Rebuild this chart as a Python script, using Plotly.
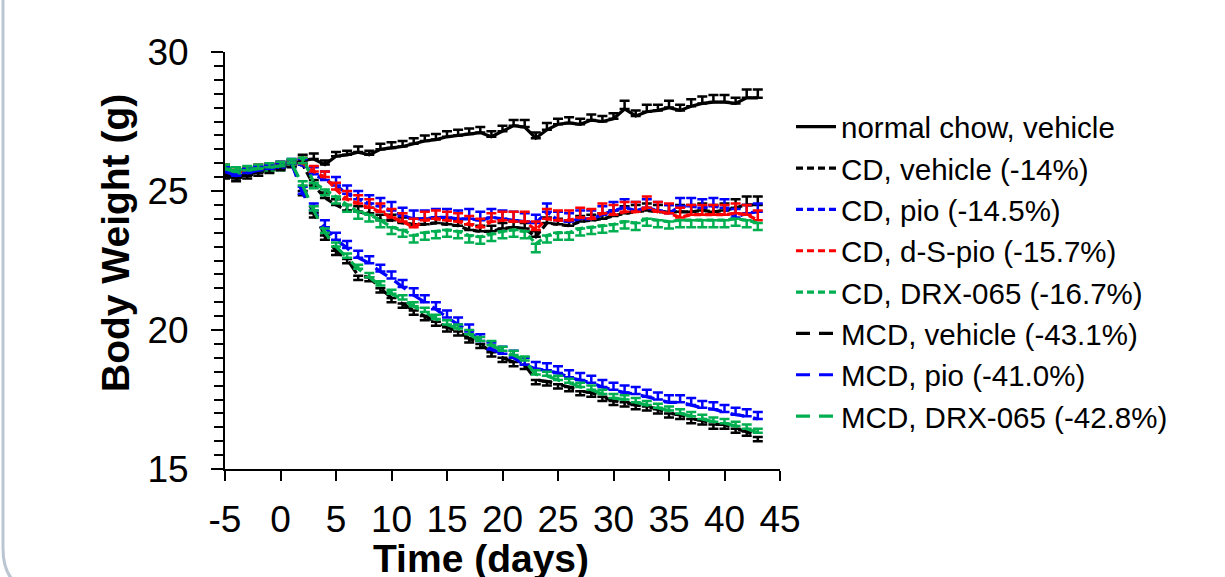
import plotly.graph_objects as go

days = list(range(-5, 44))
x_ticks = [-5, 0, 5, 10, 15, 20, 25, 30, 35, 40, 45]
x_tick_labels = ["-5", "0", "5", "10", "15", "20", "25", "30", "35", "40", "45"]

nc = [25.7, 25.5, 25.6, 25.7, 25.8, 25.85, 25.95, 26.1, 26.15, 25.95,
      26.25, 26.3, 26.4, 26.3, 26.5, 26.55, 26.6, 26.7, 26.8, 26.85,
      26.95, 27.0, 27.05, 27.1, 26.95, 27.15, 27.35, 27.3, 26.9, 27.2,
      27.4, 27.45, 27.4, 27.55, 27.5, 27.6, 27.95, 27.7, 27.85, 27.9,
      28.0, 27.9, 28.05, 28.15, 28.2, 28.2, 28.15, 28.35, 28.35]
nc_err = [0.15, 0.15, 0.15, 0.15, 0.15, 0.15, 0.15, 0.2, 0.2, 0.15,
          0.15, 0.15, 0.2, 0.15, 0.2, 0.2, 0.2, 0.2, 0.2, 0.2,
          0.2, 0.2, 0.2, 0.2, 0.2, 0.2, 0.2, 0.25, 0.2, 0.25,
          0.2, 0.2, 0.2, 0.2, 0.2, 0.2, 0.3, 0.2, 0.25, 0.2,
          0.25, 0.2, 0.25, 0.25, 0.25, 0.25, 0.2, 0.3, 0.3]

cd_veh = [25.55, 25.45, 25.55, 25.65, 25.75, 25.8, 25.9, 25.95, 25.2, 24.75,
          24.5, 24.3, 24.25, 24.2, 23.95, 23.95, 23.85, 23.8, 23.8, 23.85,
          23.8, 23.75, 23.6, 23.55, 23.55, 23.65, 23.7, 23.65, 23.35, 23.85,
          23.8, 23.75, 23.9, 23.95, 24.0, 24.1, 24.2, 24.25, 24.3, 24.25,
          24.25, 24.25, 24.25, 24.3, 24.25, 24.3, 24.4, 24.5, 24.5]
cd_veh_err = [0.15, 0.15, 0.15, 0.15, 0.15, 0.15, 0.15, 0.2, 0.2, 0.2,
              0.2, 0.2, 0.2, 0.2, 0.2, 0.2, 0.2, 0.2, 0.2, 0.2,
              0.2, 0.2, 0.2, 0.2, 0.2, 0.2, 0.2, 0.2, 0.2, 0.2,
              0.2, 0.2, 0.2, 0.2, 0.2, 0.2, 0.25, 0.25, 0.25, 0.25,
              0.25, 0.25, 0.25, 0.25, 0.25, 0.25, 0.3, 0.3, 0.3]

cd_pio = [25.75, 25.55, 25.65, 25.75, 25.8, 25.85, 25.9, 25.95, 25.6, 25.4,
          25.2, 24.9, 24.7, 24.55, 24.45, 24.3, 24.1, 24.0, 24.0, 24.05,
          24.05, 24.0, 24.0, 23.95, 24.05, 24.0, 23.95, 23.9, 23.85, 24.25,
          23.95, 23.9, 24.0, 24.0, 24.15, 24.3, 24.4, 24.3, 24.4, 24.3,
          24.2, 24.45, 24.45, 24.4, 24.45, 24.4, 24.05, 24.2, 24.25]
cd_pio_err = [0.15, 0.15, 0.15, 0.15, 0.15, 0.15, 0.15, 0.2, 0.25, 0.3,
              0.3, 0.3, 0.3, 0.3, 0.3, 0.3, 0.3, 0.3, 0.3, 0.3,
              0.3, 0.3, 0.35, 0.3, 0.3, 0.3, 0.3, 0.3, 0.3, 0.3,
              0.3, 0.3, 0.3, 0.3, 0.3, 0.3, 0.3, 0.3, 0.3, 0.3,
              0.3, 0.3, 0.3, 0.3, 0.3, 0.3, 0.3, 0.3, 0.3]

cd_dspio = [25.8, 25.7, 25.7, 25.8, 25.85, 25.9, 25.95, 26.0, 25.7, 25.5,
            25.05, 24.7, 24.55, 24.4, 24.25, 24.05, 23.9, 23.7, 23.95, 24.0,
            23.95, 23.9, 23.8, 23.7, 23.9, 23.95, 23.9, 23.9, 23.6, 24.0,
            23.95, 23.95, 24.05, 24.0, 24.2, 24.15, 24.25, 24.25, 24.4, 24.25,
            24.2, 24.05, 24.15, 24.15, 24.15, 24.15, 24.2, 24.15, 23.95]
cd_dspio_err = [0.15, 0.15, 0.15, 0.15, 0.15, 0.15, 0.15, 0.2, 0.2, 0.2,
                0.25, 0.3, 0.3, 0.3, 0.3, 0.3, 0.3, 0.3, 0.3, 0.3,
                0.3, 0.3, 0.3, 0.3, 0.3, 0.3, 0.35, 0.35, 0.3, 0.35,
                0.35, 0.35, 0.35, 0.35, 0.35, 0.35, 0.35, 0.35, 0.4, 0.35,
                0.35, 0.35, 0.35, 0.35, 0.35, 0.35, 0.35, 0.35, 0.35]

cd_drx = [25.9, 25.75, 25.8, 25.85, 25.85, 25.9, 26.1, 26.2, 25.3, 25.05,
          24.8, 24.5, 24.25, 24.15, 23.95, 23.7, 23.6, 23.4, 23.5, 23.55,
          23.6, 23.55, 23.4, 23.35, 23.45, 23.55, 23.6, 23.55, 23.1, 23.4,
          23.5, 23.5, 23.65, 23.7, 23.75, 23.8, 23.9, 23.85, 24.0, 23.95,
          23.9, 23.95, 23.95, 23.95, 23.95, 23.95, 24.0, 23.95, 23.85]
cd_drx_err = [0.15, 0.15, 0.15, 0.15, 0.15, 0.15, 0.15, 0.2, 0.2, 0.2,
              0.25, 0.25, 0.25, 0.25, 0.25, 0.25, 0.25, 0.25, 0.25, 0.25,
              0.25, 0.25, 0.25, 0.25, 0.25, 0.25, 0.25, 0.25, 0.3, 0.25,
              0.25, 0.25, 0.25, 0.25, 0.25, 0.25, 0.25, 0.25, 0.25, 0.25,
              0.25, 0.25, 0.25, 0.25, 0.25, 0.25, 0.25, 0.25, 0.25]

mcd_veh = [25.6, 25.5, 25.6, 25.7, 25.8, 25.9, 26.0, 25.0, 24.2, 23.4,
           22.85, 22.55, 21.95, 21.9, 21.5, 21.15, 20.95, 20.7, 20.5, 20.3,
           20.1, 19.95, 19.7, 19.5, 19.2, 19.0, 18.85, 18.75, 18.2, 18.15,
           18.05, 17.95, 17.8, 17.75, 17.6, 17.45, 17.4, 17.3, 17.25, 17.15,
           17.0, 16.95, 16.8, 16.75, 16.6, 16.6, 16.45, 16.35, 16.15]
mcd_veh_err = [0.15, 0.15, 0.15, 0.15, 0.15, 0.15, 0.15, 0.15, 0.15, 0.15,
               0.15, 0.15, 0.15, 0.15, 0.15, 0.15, 0.15, 0.15, 0.15, 0.15,
               0.15, 0.15, 0.15, 0.15, 0.15, 0.15, 0.15, 0.15, 0.15, 0.15,
               0.15, 0.15, 0.15, 0.15, 0.15, 0.15, 0.15, 0.15, 0.15, 0.15,
               0.15, 0.15, 0.15, 0.15, 0.15, 0.15, 0.15, 0.15, 0.15]

mcd_pio = [25.7, 25.55, 25.65, 25.75, 25.8, 25.9, 26.0, 24.9, 24.3, 23.7,
           23.25, 22.95, 22.6, 22.4, 22.1, 21.85, 21.55, 21.25, 21.0, 20.75,
           20.45, 20.2, 19.95, 19.6, 19.3, 19.15, 19.0, 18.75, 18.6, 18.55,
           18.45, 18.3, 18.2, 18.1, 17.95, 17.85, 17.75, 17.7, 17.6, 17.5,
           17.4, 17.4, 17.3, 17.2, 17.15, 17.05, 16.95, 16.9, 16.8]
mcd_pio_err = [0.15, 0.15, 0.15, 0.15, 0.15, 0.15, 0.15, 0.25, 0.25, 0.25,
               0.25, 0.25, 0.25, 0.25, 0.25, 0.25, 0.25, 0.25, 0.25, 0.25,
               0.25, 0.25, 0.25, 0.25, 0.25, 0.25, 0.25, 0.25, 0.25, 0.25,
               0.25, 0.25, 0.25, 0.25, 0.25, 0.25, 0.25, 0.25, 0.25, 0.25,
               0.25, 0.25, 0.25, 0.25, 0.25, 0.25, 0.25, 0.25, 0.25]

mcd_drx = [25.8, 25.7, 25.75, 25.8, 25.85, 25.9, 26.0, 25.2, 24.3, 23.5,
           23.0, 22.6, 22.2, 21.9, 21.6, 21.3, 21.1, 20.85, 20.65, 20.4,
           20.2, 20.05, 19.85, 19.6, 19.45, 19.25, 19.1, 18.9, 18.4, 18.35,
           18.2, 18.1, 17.95, 17.85, 17.7, 17.55, 17.5, 17.4, 17.3, 17.2,
           17.1, 17.0, 16.9, 16.8, 16.7, 16.65, 16.55, 16.45, 16.3]
mcd_drx_err = [0.15, 0.15, 0.15, 0.15, 0.15, 0.15, 0.15, 0.15, 0.15, 0.15,
               0.15, 0.15, 0.15, 0.15, 0.15, 0.15, 0.15, 0.15, 0.15, 0.15,
               0.15, 0.15, 0.15, 0.15, 0.15, 0.15, 0.15, 0.15, 0.15, 0.15,
               0.15, 0.15, 0.15, 0.15, 0.15, 0.15, 0.15, 0.15, 0.15, 0.15,
               0.15, 0.15, 0.15, 0.15, 0.15, 0.15, 0.15, 0.15, 0.15]

names = ["normal chow, vehicle", "CD, vehicle (-14%)", "CD, pio (-14.5%)",
         "CD, d-S-pio (-15.7%)", "CD, DRX-065 (-16.7%)", "MCD, vehicle (-43.1%)",
         "MCD, pio (-41.0%)", "MCD, DRX-065 (-42.8%)"]

BLACK, BLUE, RED, GREEN = "#000000", "#0000FF", "#FF0000", "#00B050"
SHORT, LONG = "7px,4px", "14px,9px"

series = [
    (nc, nc_err, "up", BLACK, "solid"),
    (cd_veh, cd_veh_err, "up", BLACK, SHORT),
    (cd_pio, cd_pio_err, "up", BLUE, SHORT),
    (cd_dspio, cd_dspio_err, "up", RED, SHORT),
    (cd_drx, cd_drx_err, "down", GREEN, SHORT),
    (mcd_veh, mcd_veh_err, "down", BLACK, LONG),
    (mcd_pio, mcd_pio_err, "up", BLUE, LONG),
    (mcd_drx, mcd_drx_err, "up", GREEN, LONG),
]

fig = go.Figure()
zeros = [0] * len(days)
for i, (vals, err, direction, color, dash) in enumerate(series):
    if direction == "up":
        ey = dict(type="data", symmetric=False, array=err, arrayminus=zeros,
                  color=color, thickness=2.5, width=5)
    else:
        ey = dict(type="data", symmetric=False, array=zeros, arrayminus=err,
                  color=color, thickness=2.5, width=5)
    fig.add_trace(go.Scatter(
        x=days, y=vals, mode="lines", name=names[i],
        line=dict(color=color, width=3.2, dash=dash), error_y=ey))

# body margin is removed by post_script, so page pixels == figure pixels
W, H = 1225, 577
L, T = 225, 52
R = W - 780
B = H - 469
pw, ph = W - L - R, H - T - B


def px(x_page):
    return (x_page - L) / pw


def py(y_page):
    return (H - B - y_page) / ph


frame_path = (f"M {px(3)},{py(-5)} L {px(3)},{py(548)} "
              f"Q {px(3)},{py(592)} {px(45)},{py(592)}")

fig.update_layout(
    width=W, height=H, autosize=False,
    margin=dict(l=L, r=R, t=T, b=B),
    paper_bgcolor="white", plot_bgcolor="white",
    font=dict(family="Arial, Liberation Sans, sans-serif", color="black"),
    title=dict(text="<b>Body Weight Change in CD and MCD Feeding</b>",
               xref="container", yref="container", x=33 / W, xanchor="left",
               y=1, yanchor="bottom", pad=dict(b=13),
               font=dict(size=55, color="#2b2b38",
                         family="Arial, Liberation Sans, sans-serif")),
    showlegend=True,
    legend=dict(x=px(791), xanchor="left", y=py(101), yanchor="top",
                font=dict(size=29.5, family="Arial, Liberation Sans, sans-serif", color="black"),
                bgcolor="rgba(0,0,0,0)", tracegroupgap=0, itemwidth=40),
    xaxis=dict(range=[-5, 45], tickmode="array", tickvals=x_ticks, ticktext=x_tick_labels,
               showline=True, linecolor="black", linewidth=2,
               ticks="outside", ticklen=10, tickwidth=2, tickcolor="black",
               tickfont=dict(size=37), showgrid=False, zeroline=False,
               ticklabelstandoff=7),
    yaxis=dict(range=[15, 30], tickmode="linear", tick0=15, dtick=5,
               showline=True, linecolor="black", linewidth=2,
               ticks="outside", ticklen=12, tickwidth=2, tickcolor="black",
               tickfont=dict(size=37), showgrid=False, zeroline=False,
               ticklabelstandoff=15,
               minor=dict(dtick=0.5, ticks="outside", ticklen=9, tickwidth=2,
                          tickcolor="black", showgrid=False)),
    shapes=[dict(type="path", xref="paper", yref="paper", path=frame_path,
                 line=dict(color="#bcc6d3", width=3))],
    annotations=[
        dict(text="<b>Body Weight (g)</b>", textangle=-90, xref="paper", yref="paper",
             x=px(115), y=py(243), xanchor="center", yanchor="middle", showarrow=False,
             font=dict(size=39, color="black")),
        dict(text="<b>Time (days)</b>", xref="paper", yref="paper",
             x=px(481), y=py(558), xanchor="center", yanchor="middle", showarrow=False,
             font=dict(size=39, color="black")),
    ],
)

fig.write_html("out.html", config={"displayModeBar": False},
               post_script="document.body.style.margin='0';document.body.style.overflow='hidden';")
